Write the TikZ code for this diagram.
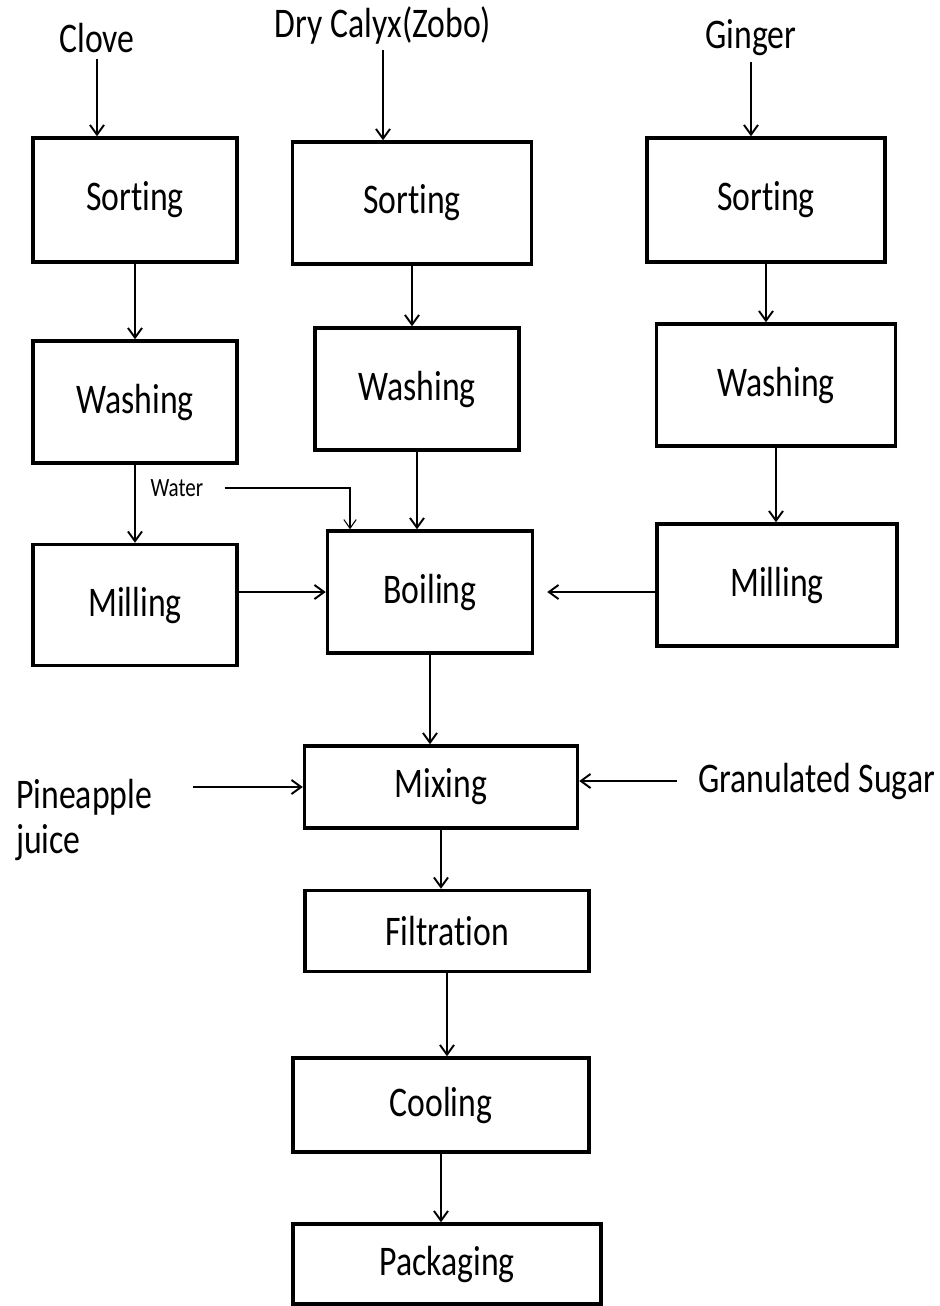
\documentclass[tikz,border=0pt]{standalone}
\usepackage{fontspec}
\setmainfont[Ligatures=NoCommon]{Carlito}
\usetikzlibrary{arrows.meta,positioning}

\begin{document}
\begin{tikzpicture}[x=0.02cm,y=-0.02cm,
    font=\fontsize{24}{26}\selectfont\addfontfeature{FakeStretch=0.8},
    stage/.style={draw, line width=2pt, inner sep=0pt},
    flow/.style={-{Straight Barb[length=5.5pt,width=8pt]}, line width=1.1pt}]
    \useasboundingbox (0,0) rectangle (940,1306);

    % raw materials
    \node (clove) at (97,38) {Clove};
    \node (zobo) at (383,25) {Dry Calyx(Zobo)};
    \node (ginger) at (751,38) {Ginger};

    % clove line
    \node[stage, minimum width=4.08cm, minimum height=2.48cm] (c_1) at (135,200) {Sorting};
    \node[stage, minimum width=4.08cm, minimum height=2.44cm] (c_2) at (135,402) {Washing};
    \node[stage, minimum width=4.08cm, minimum height=2.42cm] (c_3) at (135,605) {Milling};

    % zobo line
    \node[stage, minimum width=4.78cm, minimum height=2.44cm] (z_1) at (412,203) {Sorting};
    \node[stage, minimum width=4.08cm, minimum height=2.44cm] (z_2) at (417,389) {Washing};
    \node[stage, minimum width=4.10cm, minimum height=2.44cm] (boil) at (430,592) {Boiling};

    % ginger line
    \node[stage, minimum width=4.76cm, minimum height=2.48cm] (g_1) at (766,200) {Sorting};
    \node[stage, minimum width=4.78cm, minimum height=2.44cm] (g_2) at (776,385) {Washing};
    \node[stage, minimum width=4.80cm, minimum height=2.44cm] (g_3) at (777,585) {Milling};

    % common line
    \node[stage, minimum width=5.46cm, minimum height=1.64cm] (mix) at (441,787) {Mixing};
    \node[stage, minimum width=5.68cm, minimum height=1.62cm] (filt) at (447,931) {Filtration};
    \node[stage, minimum width=5.92cm, minimum height=1.88cm] (cool) at (441,1105) {Cooling};
    \node[stage, minimum width=6.16cm, minimum height=1.60cm] (pack) at (447,1264) {Packaging};

    % additions
    \node[font=\fontsize{15}{17}\selectfont\addfontfeature{FakeStretch=0.8}] (water) at (177,488) {Water};
    \node[anchor=west, align=left] (pine) at (10,820) {Pineapple\\juice};
    \node[anchor=west] (sugar) at (692,781) {Granulated Sugar};

    \draw[flow] (clove.south) -- (clove.south |- c_1.north);
    \draw[flow] (zobo.south) -- (zobo.south |- z_1.north);
    \draw[flow] (ginger.south) -- (ginger.south |- g_1.north);

    \draw[flow] (c_1.south) -- (c_2.north);
    \draw[flow] (c_2.south) -- (c_3.north);
    \draw[flow] (z_1.south) -- (z_1.south |- z_2.north);
    \draw[flow] (z_2.south) -- (z_2.south |- boil.north);
    \draw[flow] (g_1.south) -- (g_1.south |- g_2.north);
    \draw[flow] (g_2.south) -- (g_2.south |- g_3.north);

    \draw[flow] (boil.west -| c_3.east) -- (boil.west);
    \draw[flow, shorten >=0.26cm] (g_3.west |- boil.east) -- (boil.east);
    \draw[-{Straight Barb[length=5pt,width=7pt]}, line width=0.6pt, shorten <=0.3cm]
        (water.east) -| ([xshift=-1.6cm]boil.north);

    \draw[flow] (boil.south) -- (boil.south |- mix.north);
    \draw[flow, shorten <=0.7cm] (pine.east |- mix.west) -- (mix.west);
    \draw[flow, shorten <=0.3cm] (sugar.west) -- (sugar.west -| mix.east);
    \draw[flow] (mix.south) -- (mix.south |- filt.north);
    \draw[flow] (filt.south) -- (filt.south |- cool.north);
    \draw[flow] (cool.south) -- (cool.south |- pack.north);
\end{tikzpicture}
\end{document}
